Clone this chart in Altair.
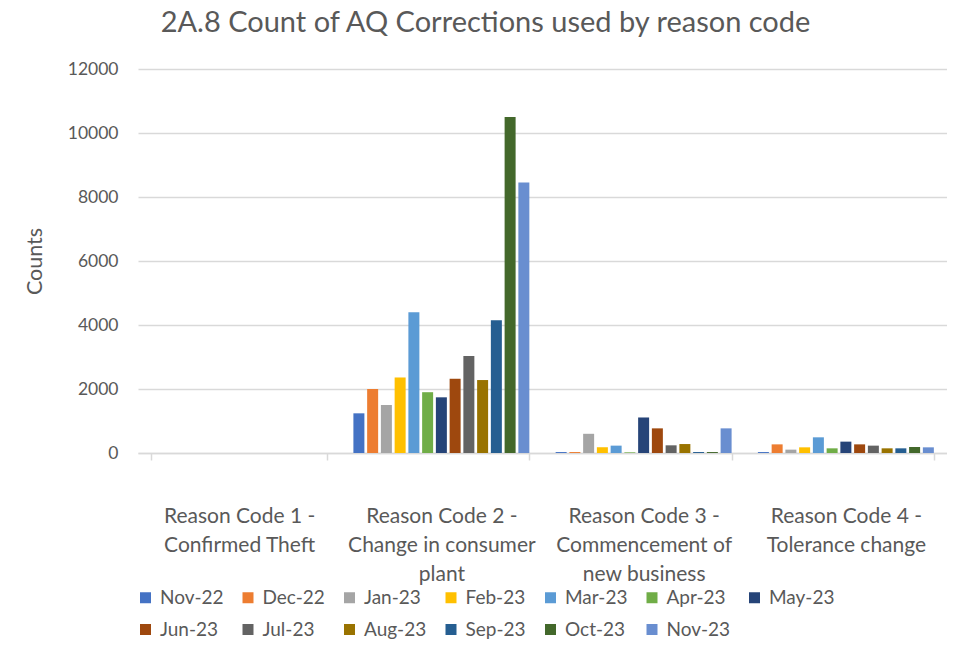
import altair as alt
import pandas as pd

categories = [
    "Reason Code 1 -\nConfirmed Theft",
    "Reason Code 2 -\nChange in consumer\nplant",
    "Reason Code 3 -\nCommencement of\nnew business",
    "Reason Code 4 -\nTolerance change",
]
months = ["Nov-22", "Dec-22", "Jan-23", "Feb-23", "Mar-23", "Apr-23", "May-23",
          "Jun-23", "Jul-23", "Aug-23", "Sep-23", "Oct-23", "Nov-23"]
colors = ["#4472C4", "#ED7D31", "#A5A5A5", "#FFC000", "#5B9BD5", "#70AD47", "#264478",
          "#9E480E", "#636363", "#997300", "#255E91", "#43682B", "#698ED0"]

code1 = [0, 0, 0, 0, 0, 0, 0, 0, 0, 0, 0, 0, 0]
code2 = [1240, 2000, 1500, 2360, 4400, 1900, 1740, 2320, 3030, 2280, 4150, 10500, 8450]
code3 = [30, 30, 600, 180, 230, 20, 1110, 770, 240, 280, 30, 30, 770]
code4 = [30, 270, 105, 177, 490, 146, 355, 270, 230, 146, 146, 188, 177]

rows = []
for cat, vals in zip(categories, [code1, code2, code3, code4]):
    for m, v in zip(months, vals):
        rows.append({"category": cat, "month": m, "count": v})
df = pd.DataFrame(rows)

FONT = "Lato"
GREY = "#595959"

chart = alt.Chart(df).mark_bar().encode(
    x=alt.X("category:N", sort=categories,
            scale=alt.Scale(paddingInner=0.13, paddingOuter=0.065),
            axis=alt.Axis(title=None, labelAngle=0, tickBand="extent",
                          labelExpr="split(datum.label, '\\n')",
                          labelFont=FONT, labelFontSize=21, labelColor=GREY,
                          labelPadding=56, labelLineHeight=29, labelLimit=400,
                          labelBaseline="middle",
                          domainColor="#D9D9D9", domainWidth=1.5,
                          tickColor="#D9D9D9", tickWidth=1.5, tickSize=7)),
    xOffset=alt.XOffset("month:N", sort=months, scale=alt.Scale(paddingInner=0.2)),
    y=alt.Y("count:Q", scale=alt.Scale(domain=[0, 12000]),
            axis=alt.Axis(title="Counts", values=list(range(0, 12001, 2000)),
                          format="d",
                          labelFont=FONT, labelFontSize=17.5, labelColor=GREY,
                          labelPadding=20, domain=False, ticks=False,
                          gridColor="#D9D9D9", gridWidth=1.3,
                          titleFont=FONT, titleFontSize=21.5, titleColor=GREY,
                          titleFontWeight="normal", titleAngle=-90,
                          titleX=-103, titleY=192, titleAlign="center",
                          titleBaseline="middle")),
    color=alt.Color("month:N", sort=months,
                    scale=alt.Scale(domain=months, range=colors),
                    legend=alt.Legend(title=None, orient="none", legendX=-2, legendY=519,
                                      direction="horizontal", columns=7,
                                      symbolType="square", symbolSize=121,
                                      symbolStrokeWidth=0,
                                      labelFont=FONT, labelFontSize=19,
                                      labelColor=GREY, columnPadding=14.5,
                                      rowPadding=12, labelOffset=5)),
).properties(
    width=809, height=384,
    title=alt.Title("2A.8 Count of AQ Corrections used by reason code",
                    font=FONT, fontSize=29, fontWeight="normal", color=GREY,
                    anchor="middle", dx=-57, offset=22),
    autosize=alt.AutoSizeParams(type="none"),
    padding={"left": 130, "top": 61, "right": 0, "bottom": 189},
).configure_view(stroke=None)

chart.save("out.html", embed_options={"renderer": "svg", "actions": False})
